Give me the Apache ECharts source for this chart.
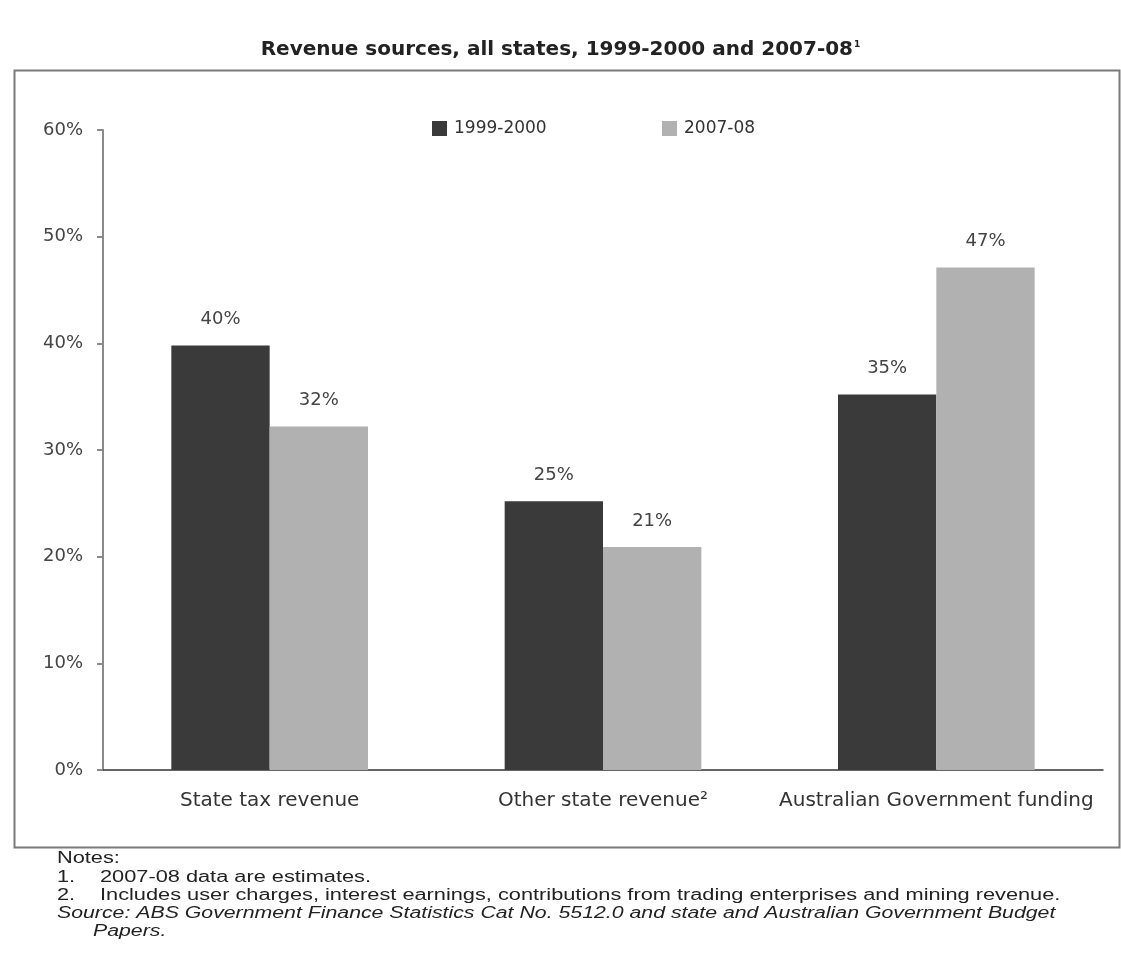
<!DOCTYPE html>
<html>
<head>
<meta charset="utf-8">
<script src="https://cdn.jsdelivr.net/npm/echarts@6/dist/echarts.min.js"></script>
<style>
html,body{margin:0;padding:0;background:#fff;}
#chart{width:1121px;height:972px;}
</style>
</head>
<body>
<div id="chart"></div>
<script>
var categories = ['State tax revenue', 'Other state revenue²', 'Australian Government funding'];
var seriesNames = ['1999-2000', '2007-08'];
var values1999 = [39.8, 25.2, 35.2];
var values2007 = [32.2, 20.9, 47.1];
var yTicks = [0, 10, 20, 30, 40, 50, 60];
var titleText = 'Revenue sources, all states, 1999-2000 and 2007-08';
var noteLines = [
  'Notes:',
  '1.',
  '2007-08 data are estimates.',
  '2.',
  'Includes user charges, interest earnings, contributions from trading enterprises and mining revenue.',
  'Source: ABS Government Finance Statistics Cat No. 5512.0 and state and Australian Government Budget',
  'Papers.'
];

var FONT = 'DejaVu Sans';
var chart = echarts.init(document.getElementById('chart'), null, {renderer: 'canvas'});

function lbl(){
  return {
    show: true, position: 'top', distance: 17,
    color: '#444', fontFamily: FONT, fontSize: 18,
    formatter: function(p){ return Math.round(p.value) + '%'; }
  };
}

var noteStyle = {fontFamily: 'Liberation Sans', fontSize: 16, fill: '#222'};
function noteText(x, y, t, italic){
  return {type: 'text', left: x, top: y, scaleX: italic ? 1.33 : 1.36,
    style: Object.assign({text: t, fontStyle: italic ? 'italic' : 'normal'}, noteStyle)};
}

function legendCfg(name, x){
  return {data: [name], left: x, top: 120, padding: 0, itemWidth: 15, itemHeight: 15,
    icon: 'rect', itemGap: 0,
    textStyle: {fontFamily: FONT, fontSize: 17, color: '#333', padding: [0, 0, 0, 2]}};
}

chart.setOption({
  animation: false,
  backgroundColor: '#fff',
  title: {
    text: titleText + '{sup|1}',
    left: 'center', top: 35,
    textStyle: {fontFamily: FONT, fontWeight: 'bold', fontSize: 20, color: '#222',
      rich: {sup: {fontFamily: FONT, fontSize: 9, color: '#222', verticalAlign: 'top', padding: [0, 0, 10, 1]}}}
  },
  legend: [legendCfg(seriesNames[0], 432), legendCfg(seriesNames[1], 662)],
  grid: {left: 103, right: 18, top: 130, bottom: 202, containLabel: false},
  xAxis: {
    type: 'category', data: categories,
    axisLine: {lineStyle: {color: '#333', width: 1.5}},
    axisTick: {show: false},
    axisLabel: {interval: 0, fontFamily: FONT, fontSize: 20, color: '#333', margin: 21}
  },
  yAxis: {
    type: 'value', min: yTicks[0], max: yTicks[yTicks.length-1], interval: 10,
    axisLine: {show: true, lineStyle: {color: '#8a8a8a', width: 2}},
    axisTick: {show: true, inside: false, length: 6, lineStyle: {color: '#8a8a8a', width: 2}},
    splitLine: {show: false},
    axisLabel: {fontFamily: FONT, fontSize: 18, color: '#444', margin: 20,
      formatter: function(v){ return v + '%'; }}
  },
  series: [
    {name: seriesNames[0], type: 'bar', data: values1999, barGap: '0%', barCategoryGap: '41%',
      itemStyle: {color: '#3a3a3a'}, label: lbl()},
    {name: seriesNames[1], type: 'bar', data: values2007, barGap: '0%', barCategoryGap: '41%',
      itemStyle: {color: '#b1b1b1'}, label: lbl()}
  ],
  graphic: [
    {type: 'rect', left: 12, top: 68, silent: true, z: -1,
      shape: {width: 1105, height: 777}, style: {fill: null, stroke: '#7a7a7a', lineWidth: 2}},
    noteText(57, 851, noteLines[0]),
    noteText(57, 870, noteLines[1]),
    noteText(100, 870, noteLines[2]),
    noteText(57, 888, noteLines[3]),
    noteText(100, 888, noteLines[4]),
    noteText(57, 906, noteLines[5], true),
    noteText(93, 924, noteLines[6], true)
  ]
});
</script>
</body>
</html>
